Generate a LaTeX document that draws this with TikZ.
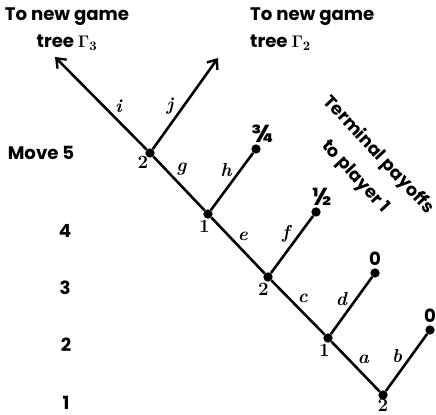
\documentclass[tikz,border=0pt]{standalone}
\usepackage[no-math]{fontspec}
\newfontfamily\treefont{Poppins}
\usetikzlibrary{arrows.meta, positioning}

\begin{document}
\begin{tikzpicture}[x=0.3mm, y=-0.3mm,
  every node/.style={font=\treefont\bfseries\fontsize{15.5}{17}\selectfont},
  branch/.style={line width=2.2pt},
  exit/.style={branch, -{Straight Barb[length=7pt, width=11pt, line width=2pt]}},
  move/.style={circle, fill=black, inner sep=0pt, minimum size=2.8mm},
  pl/.style={font=\rmfamily\bfseries\fontsize{16}{18}\selectfont, inner sep=1pt},
  act/.style={font=\rmfamily\bfseries\itshape\fontsize{16}{18}\selectfont, inner sep=1pt},
  value/.style={inner sep=1pt},
  heading/.style={align=center, font=\treefont\bfseries\fontsize{15.5}{23}\selectfont},
]
  \useasboundingbox (0,0) rectangle (436,415);

  % Moves along the main line
  \node[move] (m1) at (383,395) {};
  \node[move] (m2) at (328,338) {};
  \node[move] (m3) at (268,277) {};
  \node[move] (m4) at (208,214) {};
  \node[move] (m5) at (150,153) {};

  % Players to move
  \node[pl, below=-1.5pt of m1] (p1) {2};
  \node[pl, below=0pt of m2, xshift=-3pt] (p2) {1};
  \node[pl, below=0pt of m3, xshift=-4pt] (p3) {2};
  \node[pl, below=0pt of m4, xshift=-3pt] (p4) {1};
  \node[pl, below=-3pt of m5, xshift=-6pt] (p5) {2};

  % Terminal positions
  \node[move] (tb) at (430,330) {};
  \node[move] (td) at (375,273) {};
  \node[move] (tf) at (316,212) {};
  \node[move] (th) at (256,149) {};
  \node[value, above=1pt of tb] (vb) {0};
  \node[value, above=1pt of td] (vd) {0};
  \node[value, above=0pt of tf, xshift=5pt, font=\treefont\bfseries\fontsize{21}{21}\selectfont] (vf) {½};
  \node[value, above=0pt of th, xshift=5pt, font=\treefont\bfseries\fontsize{21}{21}\selectfont] (vh) {¾};

  % Exits to other trees
  \coordinate (ei) at (55,57);
  \coordinate (ej) at (218,58);

  % Branches
  \draw[branch] (m1) -- node[act, above right] (la) {a} (m2);
  \draw[branch] (m1) -- node[act, pos=0.45, above left] (lb) {b} (tb);
  \draw[branch] (m2) -- node[act, pos=0.55, above right] (lc) {c} (m3);
  \draw[branch] (m2) -- node[act, pos=0.45, above left] (ld) {d} (td);
  \draw[branch] (m3) -- node[act, pos=0.55, above right] (le) {e} (m4);
  \draw[branch] (m3) -- node[act, above left] (lf) {f} (tf);
  \draw[branch] (m4) -- node[act, pos=0.6, above right] (lg) {g} (m5);
  \draw[branch] (m4) -- node[act, pos=0.55, above left] (lh) {h} (th);
  \draw[exit] (m5) -- node[act, pos=0.37, above right] (li) {i} (ei);
  \draw[exit] (m5) -- node[act, pos=0.35, above left] (lj) {j} (ej);

  % Move numbers
  \node (mv5) at (41,153) {Move 5};
  \node (mv4) at (65,231) {4};
  \node (mv3) at (65,288) {3};
  \node (mv2) at (66,345) {2};
  \node (mv1) at (66,403) {1};

  % Notes
  \node[heading] (g3) at (67,29) {To new game\\tree $\mathbf{\Gamma}_{\mathbf{3}}$};
  \node[heading, align=left, anchor=west] (g2) at (246,29) {To new game\\tree $\mathbf{\Gamma}_{\mathbf{2}}$};
  \node[heading, rotate=-47, font=\treefont\bfseries\fontsize{15}{27}\selectfont] (pay) at (367,166)
    {Terminal payoffs\\to player 1};
\end{tikzpicture}
\end{document}
